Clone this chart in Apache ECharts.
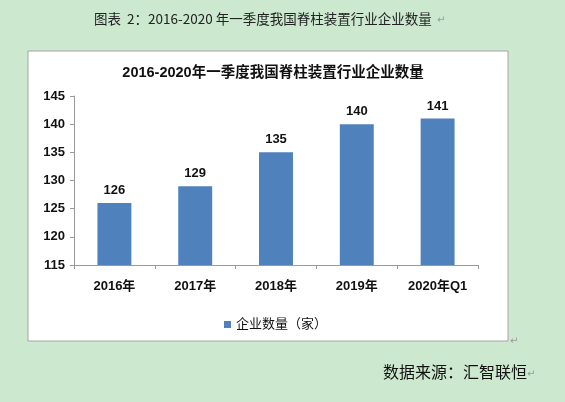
<!DOCTYPE html>
<html><head><meta charset="utf-8">
<script src="https://cdn.jsdelivr.net/npm/echarts@6/dist/echarts.min.js"></script>
<style>html,body{margin:0;padding:0;background:#cce8cf;}#c{width:565px;height:402px;}</style>
</head><body><div id="c"></div>
<script>
const categories = ['2016年','2017年','2018年','2019年','2020年Q1'];
const values = [126, 129, 135, 140, 141];
const seriesName = '企业数量（家）';
const yMin = 115, yMax = 145, yStep = 5;
const FONT = '"Liberation Sans","Noto Sans CJK SC",sans-serif';
const chart = echarts.init(document.getElementById('c'));
chart.setOption({
  backgroundColor: '#cce8cf',
  animation: false,
  graphic: [
    {type:'rect', z:0, shape:{x:28,y:51,width:480,height:290}, style:{fill:'#fff', stroke:'#a6a6a6', lineWidth:1}},
    {type:'text', z:5, left:94, top:12, style:{text:'图表  2：2016-2020 年一季度我国脊柱装置行业企业数量', fill:'#222', font:'13.5px "Noto Sans CJK SC",sans-serif'}},
    {type:'text', z:5, left:437, top:15, style:{text:'↵', fill:'#999', font:'10px "DejaVu Sans"'}},
    {type:'text', z:5, left:510, top:336, style:{text:'↵', fill:'#999', font:'10px "DejaVu Sans"'}},
    {type:'text', z:5, left:383, top:364, style:{text:'数据来源：汇智联恒', fill:'#111', font:'16px "Noto Sans CJK SC",sans-serif'}},
    {type:'text', z:5, left:527, top:369, style:{text:'↵', fill:'#999', font:'10px "DejaVu Sans"'}}
  ],
  title: {text:'2016-2020年一季度我国脊柱装置行业企业数量', left:268, textAlign:'center', top:61,
    textStyle:{fontSize:14.5, fontWeight:'bold', color:'#111', fontFamily:FONT}},
  legend: {data:[seriesName], top:313, left:219, itemWidth:7, itemHeight:7, itemGap:4,
    icon:'rect', textStyle:{fontSize:13, color:'#111', fontFamily:FONT}},
  grid: {left:74, right:87, top:96, bottom:137},
  xAxis: {type:'category', data:categories,
    axisLine:{lineStyle:{color:'#999'}},
    axisTick:{show:true, alignWithLabel:false, length:4, lineStyle:{color:'#999'}},
    axisLabel:{color:'#111', fontSize:13, fontWeight:'bold', margin:15, fontFamily:FONT}},
  yAxis: {type:'value', min:yMin, max:yMax, interval:yStep,
    axisLine:{show:true, lineStyle:{color:'#999'}},
    axisTick:{show:true, length:4, lineStyle:{color:'#999'}},
    splitLine:{show:false},
    axisLabel:{color:'#111', fontSize:13, fontWeight:'bold', margin:9, fontFamily:FONT}},
  series: [{name:seriesName, type:'bar', data:values, barWidth:'42%',
    itemStyle:{color:'#4f81bd'},
    label:{show:true, position:'top', distance:6, color:'#111', fontSize:13, fontWeight:'bold', fontFamily:FONT}}]
});
</script></body></html>
